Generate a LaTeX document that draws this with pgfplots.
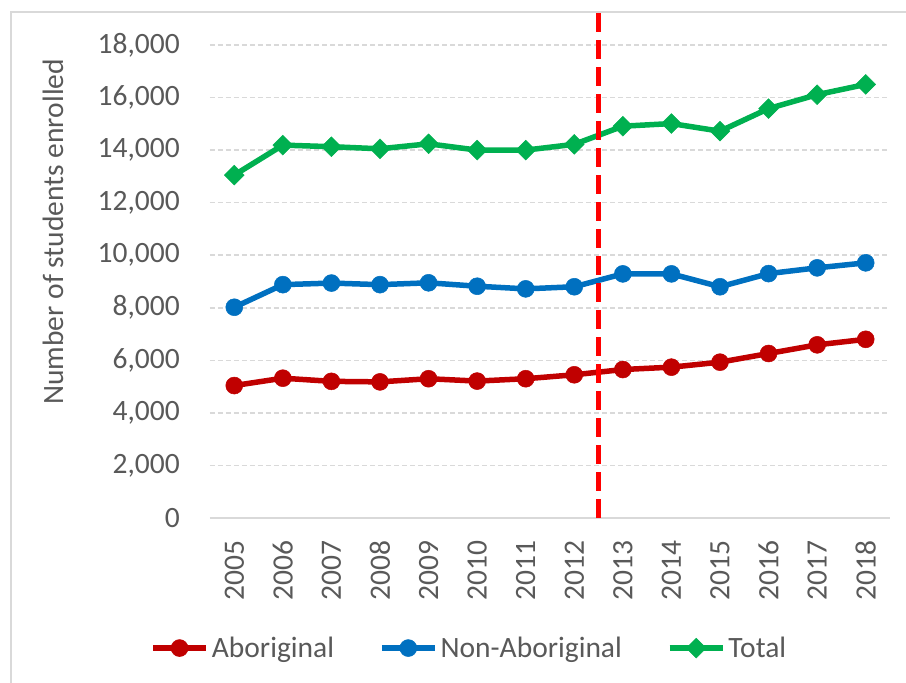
\documentclass[border=0pt]{standalone}
\usepackage{fontspec}
\setmainfont{Carlito}
\usepackage{pgfplots}
\pgfplotsset{compat=1.18}
\definecolor{txt}{HTML}{595959}
\definecolor{grd}{HTML}{D9D9D9}
\definecolor{cred}{HTML}{C00000}
\definecolor{cblue}{HTML}{0070C0}
\definecolor{cgreen}{HTML}{00B050}
\definecolor{vline}{HTML}{FF0000}
\begin{document}
\begin{tikzpicture}
\path[use as bounding box] (0,0) rectangle (906pt,683pt);
\draw[grd, line width=2pt] (11pt,0pt) -- (11pt,671pt) -- (906pt,671pt);
\begin{axis}[
  at={(210pt,165pt)}, anchor=south west,
  scale only axis, width=680pt, height=473pt,
  xmin=-0.5, xmax=13.5, ymin=0, ymax=18000,
  xtick={0,1,...,13},
  xticklabels={2005,2006,2007,2008,2009,2010,2011,2012,2013,2014,2015,2016,2017,2018},
  ytick={0,2000,...,18000},
  scaled y ticks=false,
  /pgf/number format/1000 sep={,},
  /pgf/number format/assume math mode=true,
  ymajorgrids,
  grid style={grd, line width=1.5pt, dash pattern=on 5pt off 3pt},
  axis x line*=bottom, axis y line*=left,
  x axis line style={grd, line width=1.5pt, -},
  y axis line style={draw=none},
  major tick length=0pt,
  tick style={draw=none},
  ticklabel style={font=\fontsize{29.5}{35}\selectfont, text=txt, inner sep=0pt},
  xticklabel style={rotate=90, anchor=east},
  xticklabel shift=22pt,
  yticklabel shift=30pt,
  ylabel={Number of students enrolled},
  ylabel style={at={(axis description cs:-0.2309,0.605)}, anchor=center, font=\fontsize{29.5}{35}\selectfont, text=txt, inner sep=0pt},
  clip=false,
  legend columns=3,
  legend style={at={(axis description cs:0.382,-0.275)}, anchor=center, draw=none, fill=none,
    font=\fontsize{29.5}{35}\selectfont, text=txt, inner sep=0pt,
    /tikz/every even column/.append style={column sep=42pt},
    nodes={inner sep=3pt}},
  legend image code/.code={\draw[mark repeat=2,mark phase=2,#1] plot coordinates {(0pt,0pt) (26.5pt,0pt) (53pt,0pt)};},
]
\addplot[cred, line width=5.5pt, mark=*, mark size=8.5pt, mark options={solid, fill=cred, draw=cred, line width=0.5pt}]
  coordinates {(0,5040) (1,5320) (2,5200) (3,5180) (4,5300) (5,5210) (6,5300) (7,5450) (8,5650) (9,5740) (10,5930) (11,6260) (12,6590) (13,6800)};
\addlegendentry{Aboriginal}
\addplot[cblue, line width=5.5pt, mark=*, mark size=8.5pt, mark options={solid, fill=cblue, draw=cblue, line width=0.5pt}]
  coordinates {(0,8020) (1,8880) (2,8940) (3,8880) (4,8950) (5,8820) (6,8720) (7,8800) (8,9290) (9,9290) (10,8800) (11,9300) (12,9520) (13,9710)};
\addlegendentry{Non-Aboriginal}
\addplot[cgreen, line width=5.5pt, mark=square*, mark size=7pt, mark options={solid, rotate=45, fill=cgreen, draw=cgreen, line width=0.5pt}]
  coordinates {(0,13050) (1,14190) (2,14130) (3,14050) (4,14240) (5,14000) (6,14000) (7,14220) (8,14910) (9,15010) (10,14720) (11,15580) (12,16110) (13,16500)};
\addlegendentry{Total}
\addplot[vline, line width=5.5pt, dash pattern=on 19pt off 8pt, forget plot]
  coordinates {(7.5,0) (7.5,19250)};
\end{axis}
\end{tikzpicture}
\end{document}
